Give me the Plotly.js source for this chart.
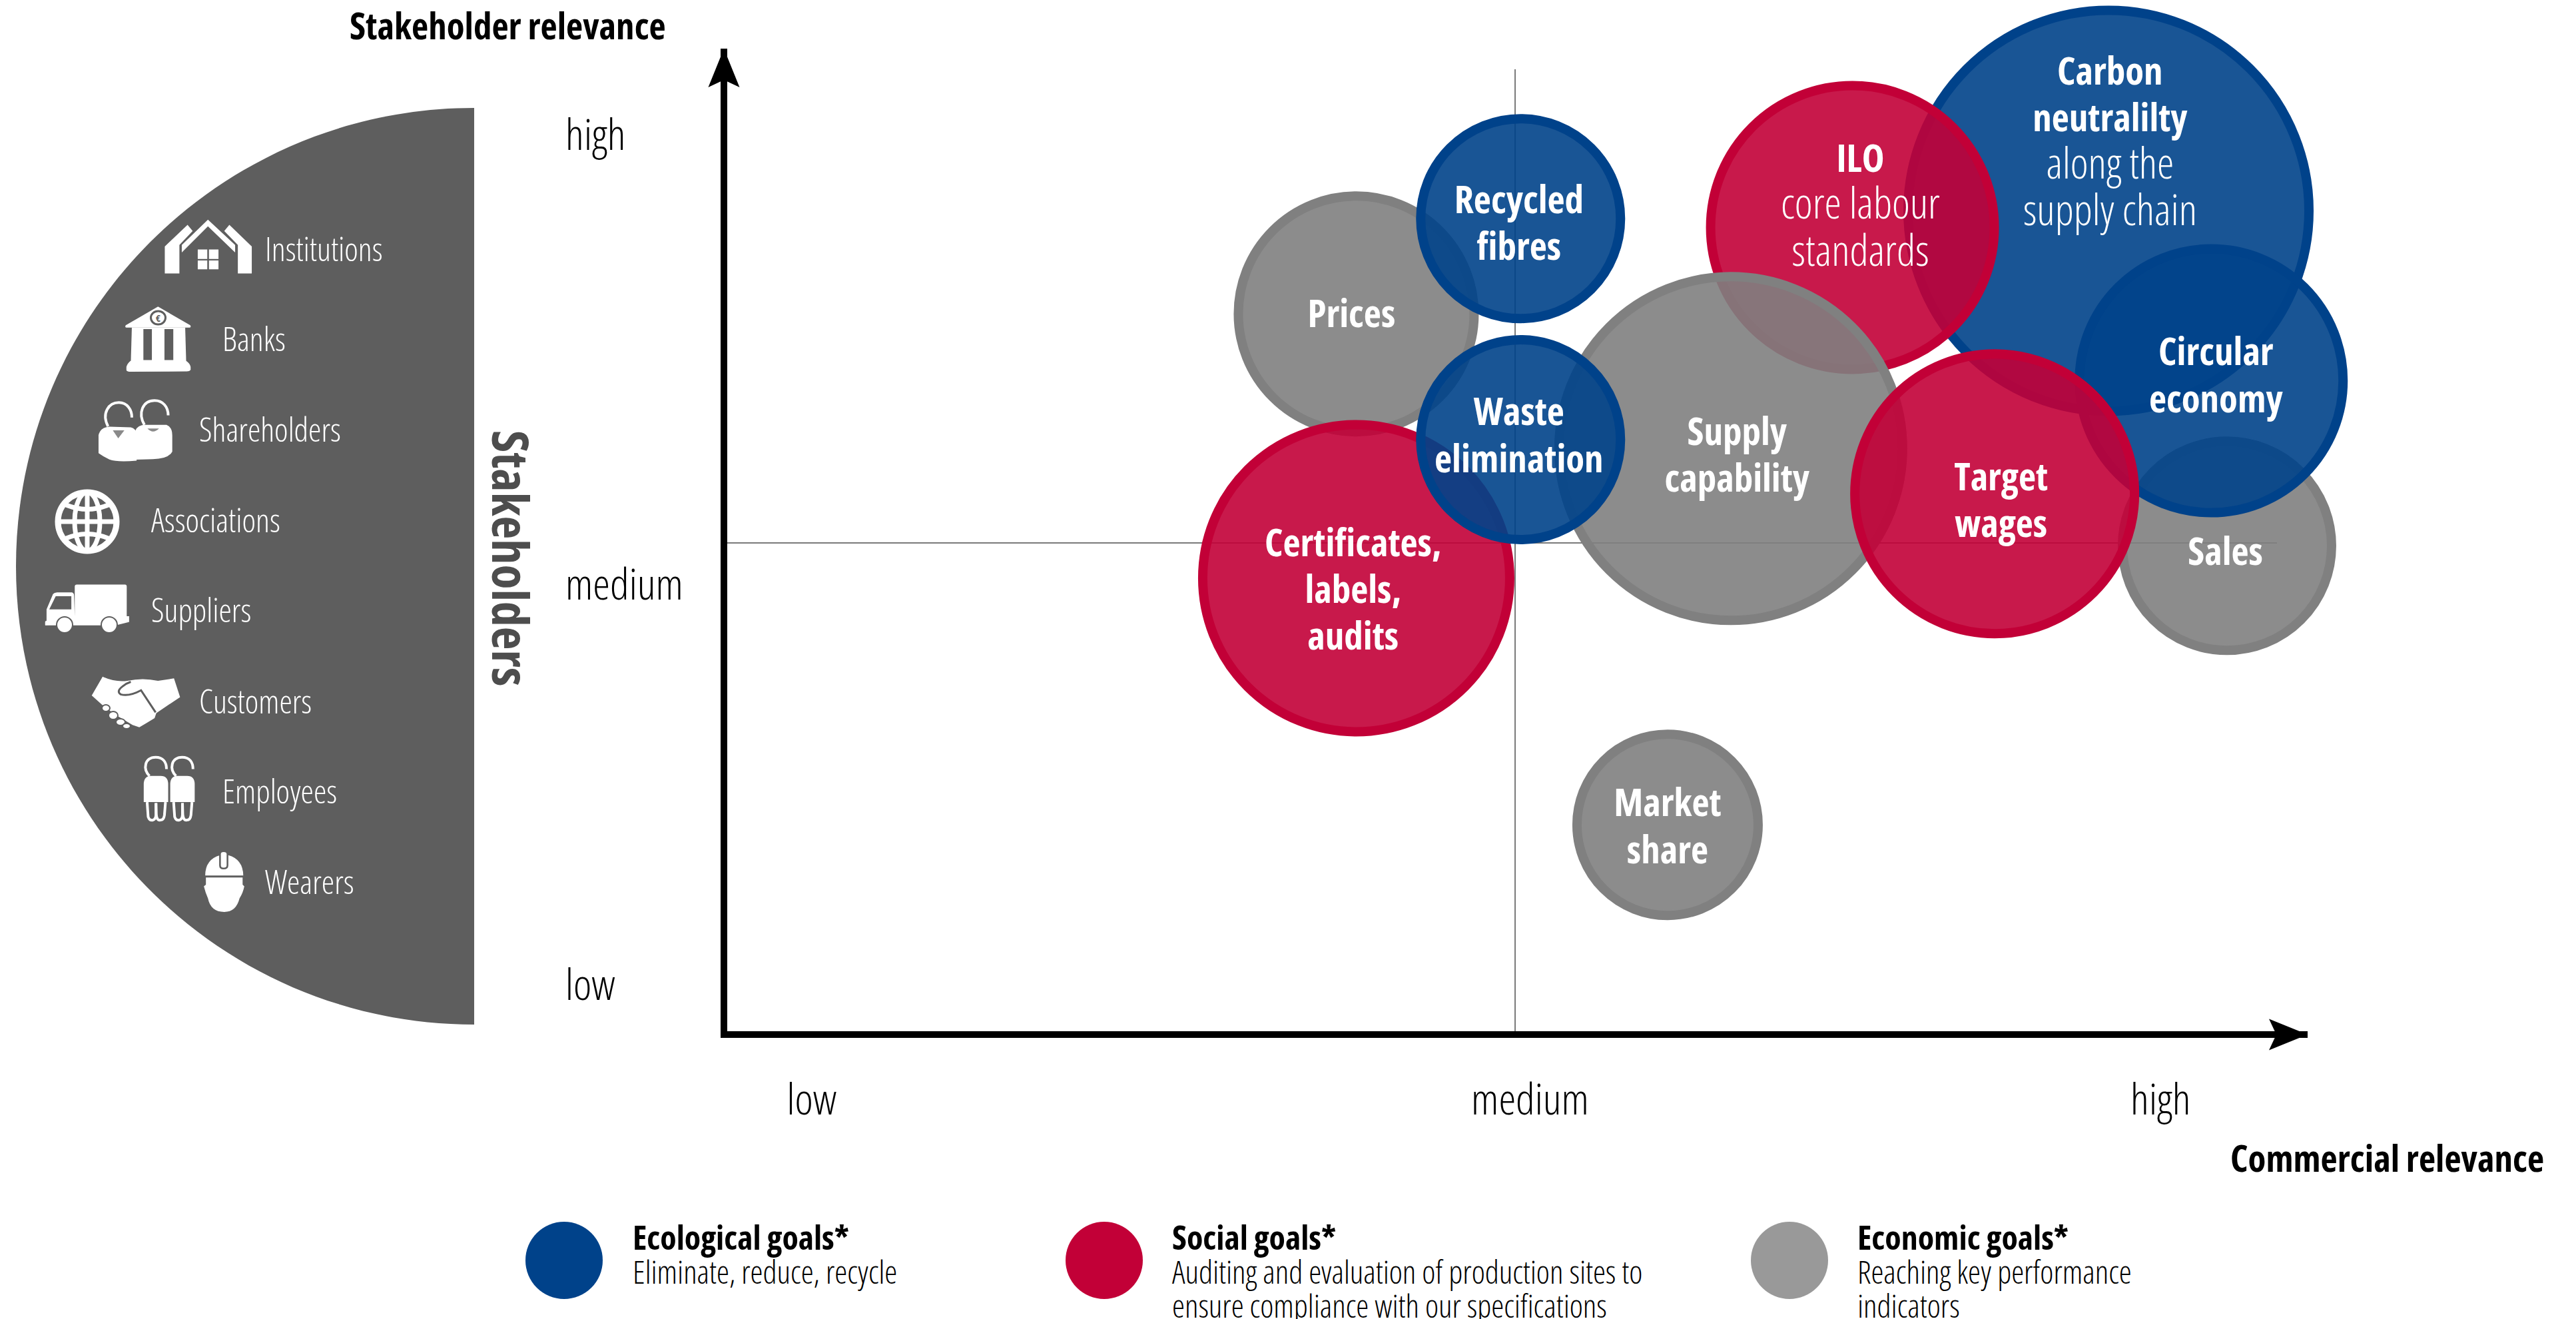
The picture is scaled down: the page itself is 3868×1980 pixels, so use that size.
<!DOCTYPE html>
<html><head><meta charset="utf-8">
<script src="https://cdn.plot.ly/plotly-3.0.1.min.js"></script>
<style>html,body{margin:0;padding:0;background:#fff}#c{width:3868px;height:1980px}text{font-stretch:75%}</style>
</head><body><div id="c"></div>
<script>
// ---------- DATA ----------
const goals = ["Ecological","Social","Economic"];
const bubbleNames = ["Carbon neutrality","ILO core labour standards","Prices","Certificates, labels, audits","Market share","Supply capability","Sales","Circular economy","Target wages","Recycled fibres","Waste elimination"];
const bubbleGoal  = [0,1,2,1,2,2,2,0,1,0,0];
const commercial  = [87.4,71.2,39.8,39.8,59.5,63.5,94.9,93.9,80.2,50.2,50.2];
const stakeholder = [83.5,81.8,73.0,46.1,21.0,59.3,49.4,66.2,54.7,82.7,60.2];
const bubbleSize  = [602,426,354,461,272,516,314,396,420,300,300];
const labelBold  = [["Carbon","neutralilty"],["ILO"],["Prices"],["Certificates,","labels,","audits"],["Market","share"],["Supply","capability"],["Sales"],["Circular","economy"],["Target","wages"],["Recycled","fibres"],["Waste","elimination"]];
const labelLight = [["along the","supply chain"],["core labour","standards"],[],[],[],[],[],[],[],[],[]];
const labelX = [87.5,71.7,39.5,39.6,59.5,63.9,94.8,94.2,80.6,50.1,50.1];
const labelY = [90.1,83.6,72.6,44.5,20.4,58.2,48.4,66.3,53.6,81.8,60.2];
const xTickVals = [5.35,50.8,90.7];
const yTickVals = [91.4,45.6,4.9];
const tickText = ["low","medium","high"];
const yTickText = ["high","medium","low"];
const stakeholderGroups = ["Institutions","Banks","Shareholders","Associations","Suppliers","Customers","Employees","Wearers"];
const legendTitles = ["Ecological goals*","Social goals*","Economic goals*"];
const legendLines = [["Eliminate, reduce, recycle"],["Auditing and evaluation of production sites to","ensure compliance with our specifications"],["Reaching key performance","indicators"]];

// ---------- STYLE / GEOMETRY ----------
const FAM = '"Open Sans",sans-serif';
const L=1092,R=3465,T=73,B=1548,W=R-L,H=B-T;
const solid=["#00428a","#c20037","#808080"], fill=["rgba(0,66,138,.9)","rgba(194,0,55,.9)","rgba(128,128,128,.9)"];
const legendFill=["#00428a","#c20037","#999999"];
const DARK="#5e5e5e";
const fx=x=>(x-L)/W, fy=y=>(B-y)/H;
const shapes=[], ann=[];
const mapPath=(s,mx,my)=>{let i=0;return s.replace(/-?\d+(\.\d+)?/g,n=>{const v=+n;return ((i++%2===0)?fx(mx(v)):fy(my(v))).toFixed(6);});};
const pxPath=s=>mapPath(s,x=>x,y=>y);
const z1=s=>mapPath(s,x=>x/1.96,y=>y/2.24+120);
const z2=s=>mapPath(s,x=>x/1.96,y=>y/1.96+800);
const addFill=(p,c="#fff")=>shapes.push({type:"path",xref:"paper",yref:"paper",path:p,fillcolor:c,line:{width:0},layer:"below"});
const addLine=(p,c="#fff",w=4)=>shapes.push({type:"path",xref:"paper",yref:"paper",path:p,fillcolor:"rgba(0,0,0,0)",line:{color:c,width:w},layer:"below"});
const addCirc=(cx,cy,rx,ry,f,lc,lw)=>shapes.push({type:"circle",xref:"paper",yref:"paper",x0:fx(cx-rx),x1:fx(cx+rx),y0:fy(cy+ry),y1:fy(cy-ry),fillcolor:f,line:{color:lc||f,width:lw||0},layer:"below"});
const text=(x,y,t,size,color,xa="left",extra={})=>ann.push(Object.assign({xref:"paper",yref:"paper",x:fx(x),y:fy(y),text:t,showarrow:false,xanchor:xa,yanchor:"middle",align:xa==="center"?"center":xa,font:{family:FAM,size:size,color:color,weight:300}},extra));

// half disc
(()=>{const cx=712,cy=850,r=688,k=r*.5523;
addFill(pxPath(`M${cx} ${cy-r} C${cx-k} ${cy-r} ${cx-r} ${cy-k} ${cx-r} ${cy} C${cx-r} ${cy+k} ${cx-k} ${cy+r} ${cx} ${cy+r} Z`),DARK);})();

// grid cross
shapes.push({type:"line",xref:"paper",yref:"paper",x0:fx(2275),x1:fx(2275),y0:fy(104),y1:fy(B),line:{color:"#7a7a7a",width:2},layer:"below"});
shapes.push({type:"line",xref:"paper",yref:"paper",x0:fx(1087),x1:fx(3419),y0:fy(815),y1:fy(815),line:{color:"#7a7a7a",width:2},layer:"below"});

// axis arrow heads
addFill(pxPath("M1087 73 L1110.5 131 L1087 120 L1063.5 131 Z"),"#000");
addFill(pxPath("M3465 1553 L3407 1576.5 L3418 1553 L3407 1529.5 Z"),"#000");

// icons: Institutions
addFill(z1("M485 560 L552 487 L567 508 L528 555 L528 651 L485 651 Z"));
addFill(z1("M741 560 L675 487 L660 508 L700 555 L700 651 L741 651 Z"));
addFill(z1("M535 555 L612 470 L692 555 L692 580 L612 492 L535 580 Z"));
addFill(z1("M582 570 L610 570 L610 602 L582 602 Z M615 570 L643 570 L643 602 L615 602 Z M582 607 L610 607 L610 637 L582 637 Z M615 607 L643 607 L643 637 L615 637 Z"));
// Banks
addFill(z1("M370 825 L465 762 L560 825 Q564 833 555 833 L375 833 Q366 833 370 825 Z"));
addFill(z1("M388 833 L545 833 L548 950 L385 950 Z"));
addFill(z1("M422 838 L447 838 L447 942 L422 942 Z M484 838 L510 838 L510 942 L484 942 Z"),DARK);
addFill(z1("M372 965 Q374 955 384 945 L548 945 Q560 955 561 965 L561 975 Q558 980 550 980 L380 981 Q372 980 372 975 Z"));
addCirc(237.5,477,11,10,"#fff",DARK,3);
text(237.5,477,"<b>€</b>",15,DARK,"center");
// Shareholders
addLine(z1("M318 1165 C298 1120 320 1085 350 1085 C375 1085 388 1110 388 1135"));
addLine(z1("M425 1160 C405 1120 420 1078 455 1078 C480 1078 495 1100 495 1128"));
addFill(z1("M290 1195 Q295 1168 322 1166 L385 1168 Q400 1172 402 1190 L402 1280 Q345 1286 322 1276 Q303 1266 290 1255 Z"));
addFill(z1("M398 1180 Q405 1160 428 1160 L490 1160 Q507 1168 507 1195 L507 1250 Q495 1275 450 1275 L398 1277 Z"));
addFill(z1("M332 1178 L366 1178 L348 1205 Z M434 1172 L468 1172 Q450 1192 434 1172 Z"),"#8a8a8a");
// Globe (associations)
addCirc(131,783,44,44,"rgba(0,0,0,0)","#fff",9);
addCirc(131,783,19,44,"rgba(0,0,0,0)","#fff",7);
addLine(pxPath("M131 739 L131 827"),"#fff",7);
addLine(pxPath("M90 783 L172 783"),"#fff",7);
addLine(pxPath("M97 757 Q131 772 165 757"),"#fff",7);
addLine(pxPath("M97 809 Q131 794 165 809"),"#fff",7);
// Truck
addFill(z2("M220 158 Q220 152 226 152 L368 152 Q373 152 373 158 L373 245 L380 245 L380 262 L133 271 L133 260 L137 258 L137 225 L156 180 Q160 175 168 175 L212 175 Q218 177 218 185 L220 245 Z"));
addFill(z2("M145 225 L164 186 L210 186 L210 225 Z"),DARK);
addFill(z2("M133 262 L380 262 L340 272 L133 272 Z"));
addCirc(97,938,12,12,"#fff",DARK,2);
addCirc(164,938,12,12,"#fff",DARK,2);
// Handshake
addFill(z2("M270 478 L302 423 Q340 440 375 435 Q420 425 465 435 L512 428 L530 483 L460 530 L455 545 L430 560 L410 572 L390 565 L340 535 L300 505 Z"));
addLine(z2("M458 528 L415 463 Q380 482 355 475 Q342 466 360 452 Q372 442 385 438"),DARK,3);
addCirc(159,1063,6,5,"#fff",DARK,2);
addCirc(170,1074,7,6,"#fff",DARK,2);
addCirc(181,1084,7,5,"#fff",DARK,2);
addCirc(190,1090,6,4,"#fff",DARK,2);
// Employees (two figures)
[0,78].forEach(d=>{const dx=d;
 addLine(z2(`M${440+dx} 715 C${420+dx} 695 ${425+dx} 660 ${458+dx} 660 C${480+dx} 660 ${490+dx} 675 ${490+dx} 695`));
 addFill(z2(`M${423+dx} 740 Q${423+dx} 715 ${445+dx} 715 L${473+dx} 715 Q${495+dx} 715 ${495+dx} 740 L${495+dx} 792 L${423+dx} 792 Z`));
 addLine(z2(`M${433+dx} 792 L${436+dx} 835 Q${440+dx} 847 ${450+dx} 845 Q${458+dx} 843 ${459+dx} 830 L${459+dx} 795`));
 addLine(z2(`M${459+dx} 795 L${460+dx} 830 Q${462+dx} 847 ${472+dx} 845 Q${482+dx} 845 ${484+dx} 830 L${487+dx} 792`));
});
// Wearers (helmet)
addFill(z2("M604 1008 Q604 960 648 948 L672 948 Q715 960 716 1008 Z"));
addFill(z2("M645 945 Q645 935 658 935 Q672 935 672 945 L672 978 Q672 990 658 990 Q645 990 645 978 Z"),DARK);
addFill(z2("M650 945 Q650 939 658 939 Q667 939 667 945 L667 978 Q667 985 658 985 Q650 985 650 978 Z"));
addFill(z2("M606 1014 L714 1014 L714 1035 L719 1040 Q715 1060 705 1075 Q695 1115 660 1115 Q620 1115 612 1075 Q605 1060 600 1040 L606 1035 Z"));

// stakeholder labels
const groupX=[396,332,297,225,225,297,332,396], groupY=[373,508,644,780,915,1052,1187,1323];
stakeholderGroups.forEach((g,i)=>text(groupX[i],groupY[i],g,49,"#fff"));
text(769,838,"<b>Stakeholders</b>",76,"#4d4d4d","center",{textangle:90});

// axis titles & y tick labels
text(523,38,"<b>Stakeholder relevance</b>",55,"#000");
text(3822,1737,"<b>Commercial relevance</b>",55,"#000","right");
yTickText.forEach((t,i)=>ann.push({xref:"paper",yref:"y",x:fx(847),y:yTickVals[i],text:t,showarrow:false,xanchor:"left",yanchor:"middle",font:{family:FAM,size:65,color:"#000",weight:300}}));

// legend
const lgCx=[847,1658,2687], lgTx=[948,1758,2787];
legendTitles.forEach((t,i)=>{addCirc(lgCx[i],1892,58,58,legendFill[i]);
 text(lgTx[i],1857,`<b>${t}</b>`,50,"#000");
 legendLines[i].forEach((ln,j)=>text(lgTx[i],1908+j*51,ln,48,"#000"));
});

// bubble labels: bold lines then light lines
const labelText = labelBold.map((b,i)=>[
  ...b.map(s=>`<b><span style="font-size:57px">${s}</span></b>`),
  ...labelLight[i].map(s=>`<span style="font-size:64px">${s}</span>`)
].join("<br>"));

const data=[
 {type:"scatter",mode:"markers",x:commercial,y:stakeholder,name:"Goals",customdata:bubbleNames,cliponaxis:false,hoverinfo:"skip",
  marker:{size:bubbleSize,sizemode:"diameter",color:bubbleGoal.map(g=>fill[g]),opacity:1,line:{width:14,color:bubbleGoal.map(g=>solid[g])}},showlegend:false},
 {type:"scatter",mode:"text",x:labelX,y:labelY,text:labelText,textposition:"middle center",cliponaxis:false,hoverinfo:"skip",
  textfont:{family:FAM,size:54,color:"#fff",weight:300},showlegend:false}
];
const layout={width:3868,height:1980,paper_bgcolor:"#fff",plot_bgcolor:"rgba(0,0,0,0)",showlegend:false,
 margin:{l:L,r:3868-R,t:T,b:1980-B,pad:0},
 font:{family:FAM},
 xaxis:{range:[0,100],showgrid:false,zeroline:false,showline:true,linecolor:"#000",linewidth:10,tickmode:"array",tickvals:xTickVals,ticktext:tickText,ticks:"",tickfont:{family:FAM,size:65,color:"#000",weight:300},ticklabelstandoff:37,automargin:false},
 yaxis:{range:[0,100],showgrid:false,zeroline:false,showline:true,linecolor:"#000",linewidth:10,tickmode:"array",tickvals:yTickVals,ticktext:yTickText,showticklabels:false,ticks:"",automargin:false},
 shapes:shapes,annotations:ann};
Plotly.newPlot("c",data,layout,{displayModeBar:false,staticPlot:true});
</script></body></html>
